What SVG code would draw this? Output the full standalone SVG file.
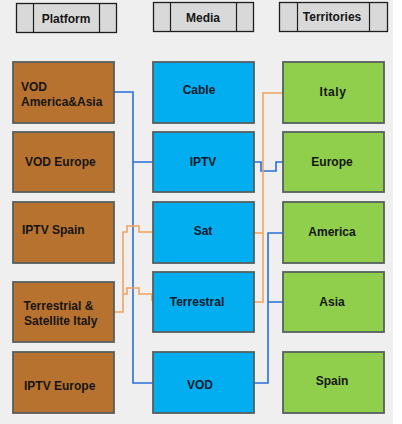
<svg xmlns="http://www.w3.org/2000/svg" width="402" height="424" viewBox="0 0 402 424">
<style>
.hdr{fill:#d9d9d9;stroke:#1e1e1e;stroke-width:1.3}
.hl{stroke:#1e1e1e;stroke-width:1.2}
.box{stroke:#56605f;stroke-width:1.8}
.plat{fill:#b8722f}
.med{fill:#02aeef}
.ter{fill:#8fcf4b}
text{font-family:"Liberation Sans",Arial,sans-serif;font-size:12px;font-weight:bold;fill:#151515}
.c{text-anchor:middle}
.mt{fill:#0b1a2c}
.blue{fill:none;stroke:#2a6fd6;stroke-width:1.6}
.orange{fill:none;stroke:#f2a35e;stroke-width:1.6}
</style>
<rect x="0" y="0" width="402" height="424" fill="#ffffff"/>
<rect x="0" y="0" width="393" height="424" fill="#efefef"/>

<g id="hdr-platform">
<rect class="hdr" x="16.5" y="3.5" width="100" height="29"/>
<line class="hl" x1="33.5" y1="3.5" x2="33.5" y2="32.5"/>
<line class="hl" x1="99.5" y1="3.5" x2="99.5" y2="32.5"/>
<text class="c" x="66" y="23">Platform</text>
</g>
<g id="hdr-media">
<rect class="hdr" x="153.5" y="2.5" width="100" height="29"/>
<line class="hl" x1="170.5" y1="2.5" x2="170.5" y2="31.5"/>
<line class="hl" x1="236.5" y1="2.5" x2="236.5" y2="31.5"/>
<text class="c" x="203" y="22">Media</text>
</g>
<g id="hdr-territories">
<rect class="hdr" x="279.5" y="2.5" width="108" height="29"/>
<line class="hl" x1="297.5" y1="2.5" x2="297.5" y2="31.5"/>
<line class="hl" x1="369.5" y1="2.5" x2="369.5" y2="31.5"/>
<text class="c" x="332" y="21">Territories</text>
</g>

<g id="connectors">
<path class="blue" d="M114,92 H133 V383 H153 M133,162 H153"/>
<path class="blue" d="M254,162 H261 V171 H276 V162 H283"/>
<path class="blue" d="M254,383 H268 V233 H283 M268,302 H283"/>
<path class="orange" d="M283,93 H263 V302 H254 M263,233 H254"/>
<path class="orange" d="M114,312 H123 V232 H127 V226 H139 V232 H153 M123,294 H127 V288 H139 V294 H152 V301"/>
</g>

<g id="p-vod-amasia"><rect class="box plat" x="13" y="62" width="101" height="61"/><text x="21" y="91">VOD</text><text x="21" y="106">America&amp;Asia</text></g>
<g id="p-vod-europe"><rect class="box plat" x="13" y="132" width="101" height="60"/><text x="25" y="166">VOD Europe</text></g>
<g id="p-iptv-spain"><rect class="box plat" x="13" y="202" width="101" height="61"/><text x="22" y="234">IPTV Spain</text></g>
<g id="p-terr-sat-italy"><rect class="box plat" x="13" y="282" width="101" height="60"/><text x="23.5" y="310">Terrestrial &amp;</text><text x="24" y="325">Satellite Italy</text></g>
<g id="p-iptv-europe"><rect class="box plat" x="13" y="352" width="101" height="61"/><text x="24" y="390">IPTV Europe</text></g>

<g id="m-cable"><rect class="box med" x="153" y="62" width="101" height="61"/><text class="c mt" x="199" y="94">Cable</text></g>
<g id="m-iptv"><rect class="box med" x="153" y="132" width="101" height="60"/><text class="c mt" x="203" y="166">IPTV</text></g>
<g id="m-sat"><rect class="box med" x="153" y="202" width="101" height="61"/><text class="c mt" x="203" y="235">Sat</text></g>
<g id="m-terrestral"><rect class="box med" x="153" y="272" width="101" height="60"/><text class="c mt" x="197" y="306">Terrestral</text></g>
<g id="m-vod"><rect class="box med" x="153" y="352" width="101" height="61"/><text class="c mt" x="200" y="389">VOD</text></g>

<g id="t-italy"><rect class="box ter" x="283" y="62" width="101" height="61"/><text class="c" x="333" y="96" letter-spacing="0.6">Italy</text></g>
<g id="t-europe"><rect class="box ter" x="283" y="132" width="101" height="60"/><text class="c" x="332" y="166">Europe</text></g>
<g id="t-america"><rect class="box ter" x="283" y="202" width="101" height="61"/><text class="c" x="332" y="236">America</text></g>
<g id="t-asia"><rect class="box ter" x="283" y="272" width="101" height="60"/><text class="c" x="332" y="306">Asia</text></g>
<g id="t-spain"><rect class="box ter" x="283" y="352" width="101" height="61"/><text class="c" x="332" y="385">Spain</text></g>
</svg>
